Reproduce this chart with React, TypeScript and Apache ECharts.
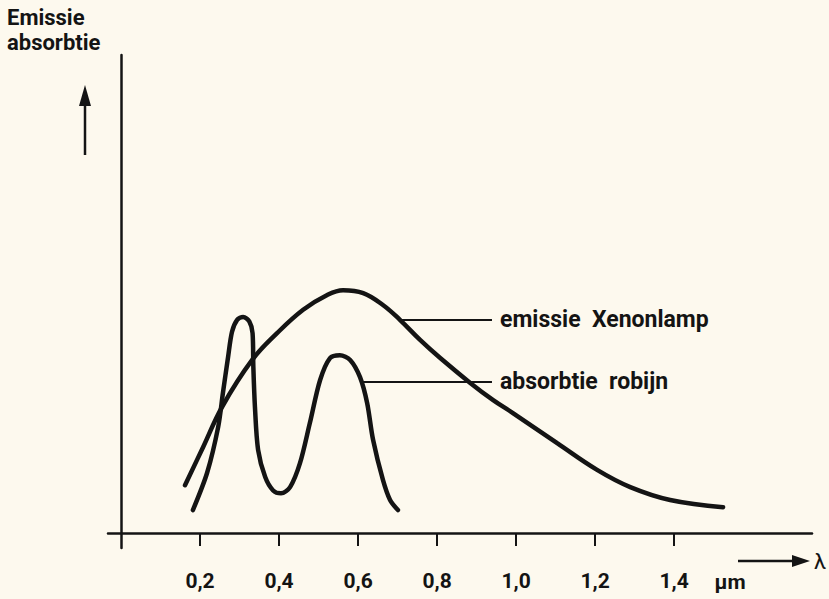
import React, { useEffect, useRef } from "react";
import * as echarts from "echarts";

// wavelength (µm) / relative intensity
const xenonX = [0.162, 0.208, 0.256, 0.332, 0.395, 0.461, 0.522, 0.562, 0.613, 0.663, 0.706, 0.757, 0.808, 0.884, 0.942, 0.992, 1.104, 1.205, 1.289, 1.39, 1.524];
const xenonY = [10.0, 18.0, 26.4, 36.2, 41.8, 46.7, 49.8, 50.8, 50.2, 47.7, 44.6, 40.4, 36.6, 31.4, 27.8, 25.1, 18.8, 13.2, 9.6, 6.9, 5.4];

const rubyX = [0.182, 0.218, 0.246, 0.258, 0.271, 0.281, 0.294, 0.309, 0.325, 0.333, 0.335, 0.339, 0.347, 0.365, 0.385, 0.405, 0.428, 0.453, 0.478, 0.504, 0.529, 0.554, 0.58, 0.605, 0.623, 0.638, 0.663, 0.681, 0.701];
const rubyY = [4.8, 12.6, 22.2, 29.3, 36.8, 42.1, 44.6, 45.2, 44.2, 41.8, 34.7, 26.4, 17.4, 11.7, 8.9, 8.3, 9.6, 14.6, 23.0, 32.0, 36.6, 37.2, 36.2, 32.6, 27.2, 19.5, 11.1, 6.9, 4.8];

const tickValues = [0.2, 0.4, 0.6, 0.8, 1.0, 1.2, 1.4];
const seriesNames = ["emissie  Xenonlamp", "absorbtie  robijn"];
const yTitle = ["Emissie", "absorbtie"];
const unitLabel = "µm";
const xSymbol = "λ";

const FONT = "Roboto, 'Liberation Sans', sans-serif";
const INK = "#141414";

export default function App() {
  const ref = useRef<HTMLDivElement>(null);
  useEffect(() => {
    if (!ref.current) return;
    const chart = echarts.init(ref.current, null, { renderer: "svg" });
    const xen = xenonX.map((x, i) => [x, xenonY[i]]);
    const ruby = rubyX.map((x, i) => [x, rubyY[i]]);
    const labelStyle = {
      show: true,
      position: "end",
      fontSize: 23,
      fontWeight: "bold",
      fontFamily: FONT,
      color: INK,
      distance: 8,
    };
    chart.setOption({
      animation: false,
      backgroundColor: "#fdf9ee",
      grid: { left: 108, right: 17, top: 55, bottom: 51, outerBounds: { left: 0, right: 0, top: 0, bottom: 0 } },
      xAxis: {
        type: "value",
        min: -0.0329,
        max: 1.749,
        axisLine: { show: true, onZero: true, lineStyle: { color: INK, width: 2.5 } },
        axisTick: { show: true, customValues: tickValues, length: 13, lineStyle: { color: INK, width: 2 } },
        axisLabel: {
          show: true,
          customValues: tickValues,
          formatter: (v: number) => v.toFixed(1).replace(".", ","),
          margin: 22,
          fontSize: 21,
          fontWeight: "bold",
          fontFamily: FONT,
          color: INK,
        },
        splitLine: { show: false },
      },
      yAxis: {
        type: "value",
        min: -3.14,
        max: 100,
        axisLine: { show: true, onZero: true, lineStyle: { color: INK, width: 2.5 } },
        axisTick: { show: false },
        axisLabel: { show: false },
        splitLine: { show: false },
      },
      series: [
        {
          type: "line",
          name: seriesNames[0],
          data: xen,
          smooth: 0.4,
          showSymbol: false,
          lineStyle: { color: INK, width: 4.5, cap: "round" },
          markLine: {
            silent: true,
            symbol: "none",
            lineStyle: { color: INK, width: 2, type: "solid" },
            label: { ...labelStyle, formatter: seriesNames[0] },
            data: [[{ coord: [0.711, 44.6] }, { coord: [0.939, 44.6] }]],
          },
        },
        {
          type: "line",
          name: seriesNames[1],
          data: ruby,
          smooth: 0.3,
          showSymbol: false,
          lineStyle: { color: INK, width: 4.5, cap: "round" },
          markLine: {
            silent: true,
            symbol: "none",
            lineStyle: { color: INK, width: 2, type: "solid" },
            label: { ...labelStyle, formatter: seriesNames[1] },
            data: [[{ coord: [0.613, 31.6] }, { coord: [0.939, 31.6] }]],
          },
        },
      ],
      graphic: [
        {
          type: "text",
          left: 7,
          top: 5,
          style: {
            text: yTitle.join("\n"),
            fontSize: 22,
            lineHeight: 25,
            fontWeight: "bold",
            fontFamily: FONT,
            fill: INK,
          },
        },
        { type: "line", shape: { x1: 85, y1: 100, x2: 85, y2: 155 }, style: { stroke: INK, lineWidth: 2.5 } },
        { type: "polygon", shape: { points: [[85, 85], [79, 106], [91, 106]] }, style: { fill: INK } },
        { type: "line", shape: { x1: 738, y1: 561, x2: 796, y2: 561 }, style: { stroke: INK, lineWidth: 2.5 } },
        { type: "polygon", shape: { points: [[810, 561], [792, 555], [792, 567]] }, style: { fill: INK } },
        {
          type: "text",
          x: 730,
          y: 582,
          style: { text: unitLabel, fontSize: 21, fontWeight: "bold", fontFamily: FONT, fill: INK, align: "center", verticalAlign: "middle" },
        },
        {
          type: "text",
          x: 820,
          y: 561,
          style: { text: xSymbol, fontSize: 22, fontFamily: FONT, fill: INK, align: "center", verticalAlign: "middle" },
        },
      ],
    });
    return () => chart.dispose();
  }, []);
  return <div ref={ref} style={{ width: 829, height: 599, position: "fixed", left: 0, top: 0 }} />;
}
